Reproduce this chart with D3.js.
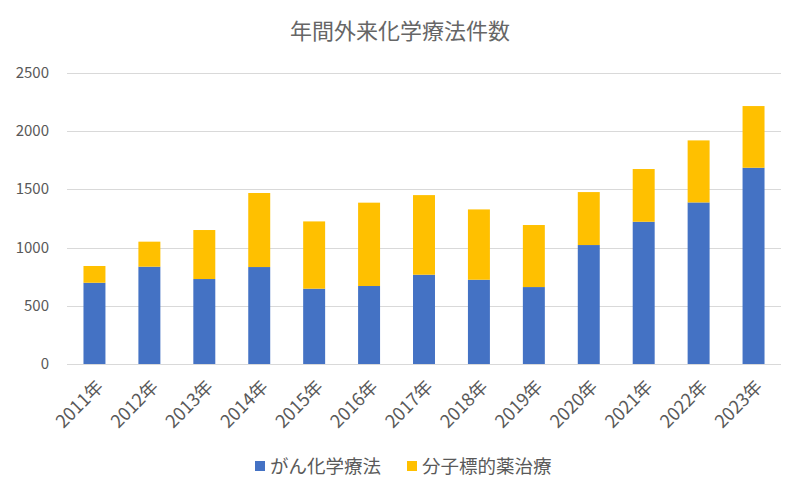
<!DOCTYPE html>
<html>
<head>
<meta charset="utf-8">
<script src="https://cdn.jsdelivr.net/npm/d3@7"></script>
<style>
  body { margin: 0; background: #fff; }
  text { font-family: "Noto Sans CJK JP", "Noto Sans", sans-serif; fill: #595959; }
</style>
</head>
<body>
<div id="chart"></div>
<script>
// data
var years = ["2011年","2012年","2013年","2014年","2015年","2016年","2017年","2018年","2019年","2020年","2021年","2022年","2023年"];
var chemo = [698, 836, 730, 833, 647, 670, 767, 724, 661, 1022, 1222, 1388, 1686];
var molecular = [144, 215, 421, 636, 578, 716, 684, 604, 533, 455, 453, 533, 530];
var yTicks = [0, 500, 1000, 1500, 2000, 2500];
var seriesNames = ["がん化学療法", "分子標的薬治療"];
var colors = ["#4472C4", "#FFC000"];

var width = 800, height = 493;
var margin = {top: 73, left: 67, right: 20, bottom: 129};

var svg = d3.select('#chart').append('svg')
	.attr('width', width)
	.attr('height', height);

var x = d3.scaleBand()
	.domain(years)
	.range([margin.left, 781])
	.paddingInner(0.6)
	.paddingOuter(0.3);

var y = d3.scaleLinear()
	.domain([0, 2500])
	.range([height - margin.bottom, margin.top]);

// title
svg.append('text')
	.attr('x', 400)
	.attr('y', 39)
	.attr('text-anchor', 'middle')
	.style('font-size', '22px')
	.style('fill', '#666')
	.text('年間外来化学療法件数');

// gridlines
svg.append('g').selectAll('line')
	.data(yTicks)
	.enter().append('line')
	.attr('x1', margin.left)
	.attr('x2', 781)
	.attr('y1', function(d) { return Math.round(y(d)) + 0.5; })
	.attr('y2', function(d) { return Math.round(y(d)) + 0.5; })
	.attr('stroke', '#d9d9d9')
	.attr('stroke-width', 1);

// y labels
svg.append('g').selectAll('text')
	.data(yTicks)
	.enter().append('text')
	.attr('x', 49)
	.attr('y', function(d) { return y(d) + 5; })
	.attr('text-anchor', 'end')
	.style('font-size', '15px')
	.text(function(d) { return d; });

// stacked bars
var rows = years.map(function(yr, i) {
	return {year: yr, chemo: chemo[i], molecular: molecular[i]};
});
var stack = d3.stack().keys(['chemo', 'molecular'])(rows);

svg.append('g').selectAll('g')
	.data(stack)
	.enter().append('g')
	.attr('fill', function(d, i) { return colors[i]; })
	.selectAll('rect')
	.data(function(d) { return d; })
	.enter().append('rect')
	.attr('x', function(d) { return x(d.data.year); })
	.attr('width', x.bandwidth())
	.attr('y', function(d) { return y(d[1]); })
	.attr('height', function(d) { return y(d[0]) - y(d[1]); });

// x labels, rotated
svg.append('g').selectAll('text')
	.data(years)
	.enter().append('text')
	.attr('transform', function(d) {
		return 'translate(' + (x(d) + x.bandwidth() / 2 + 10) + ',' + 388 + ') rotate(-45)';
	})
	.attr('text-anchor', 'end')
	.style('font-size', '18px')
	.text(function(d) { return d; });

// legend
var legendX = [255, 407];
var lg = svg.append('g').selectAll('g')
	.data(seriesNames)
	.enter().append('g')
	.attr('transform', function(d, i) { return 'translate(' + legendX[i] + ',466)'; });
lg.append('rect')
	.attr('x', 0).attr('y', -5)
	.attr('width', 10).attr('height', 10)
	.attr('fill', function(d, i) { return colors[i]; });
lg.append('text')
	.attr('x', 15)
	.attr('y', 6.5)
	.style('font-size', '18.5px')
	.text(function(d) { return d; });
</script>
</body>
</html>
